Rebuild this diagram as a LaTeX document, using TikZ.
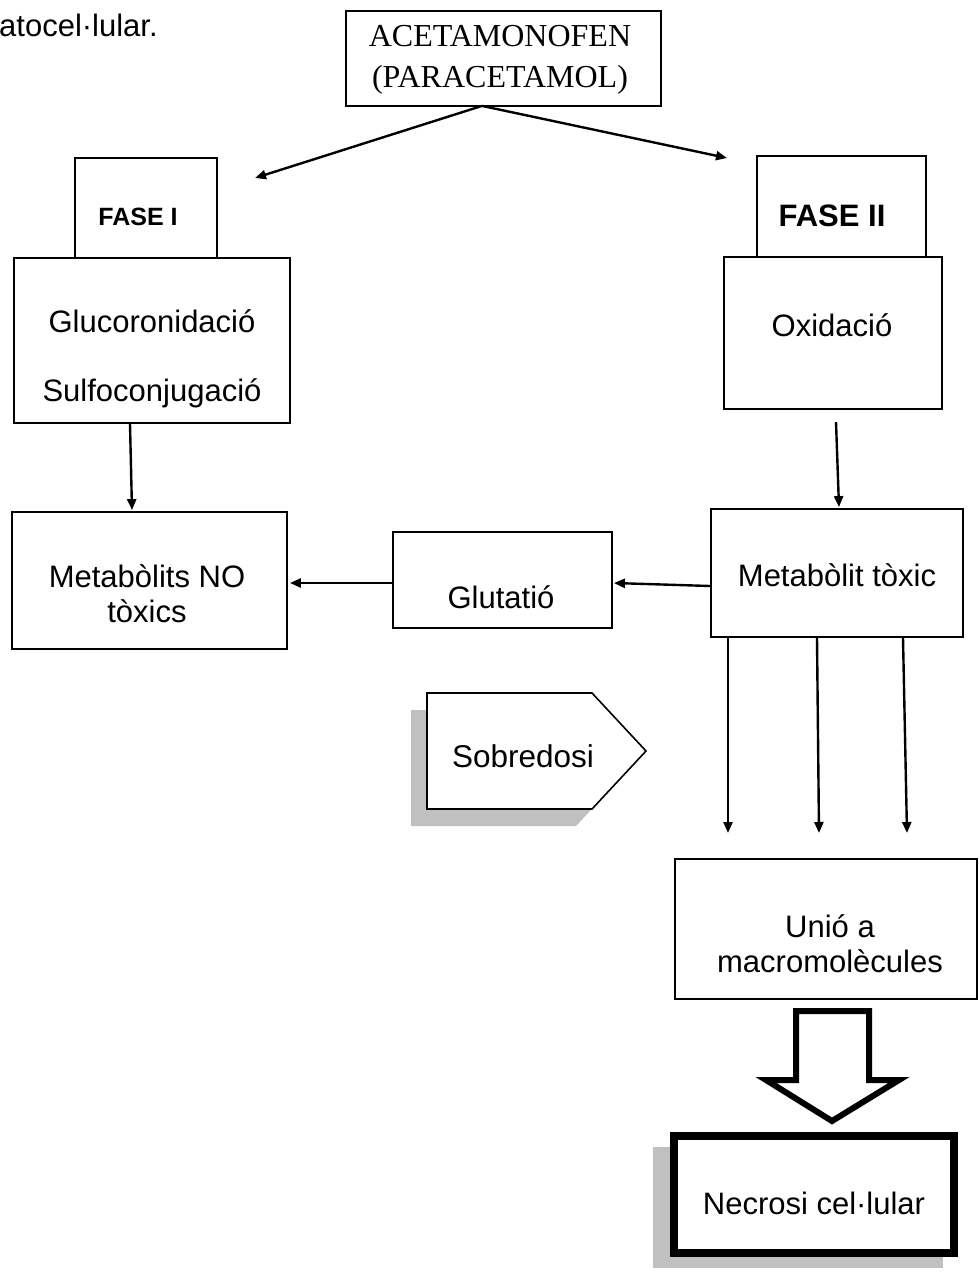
\documentclass[tikz,border=0pt]{standalone}
\usepackage{fontspec}
\setmainfont{Liberation Sans}
\newfontfamily\timesf{Liberation Serif}
\usetikzlibrary{arrows.meta,calc}
\definecolor{shadowgray}{RGB}{192,192,192}
\tikzset{
  box/.style={draw, line width=1.8pt, inner sep=0pt, fill=white},
  lbl/.style={inner sep=0pt, align=center, font=\fontsize{31}{35}\selectfont},
  conn/.style={line width=2.4pt, -{Triangle[length=11pt,width=9pt]}},
}
\begin{document}
\begin{tikzpicture}[x=1pt,y=-1pt]
\useasboundingbox (0,0) rectangle (979,1272);

% top cut text
\node[lbl, anchor=base west] (top) at (-1,36) {atocel·lular.};

% boxes
\node[box, minimum width=315pt, minimum height=95pt] (acet) at (503.5,58.5) {};
\node[box, minimum width=142pt, minimum height=100pt] (fase1) at (146,208) {};
\node[box, minimum width=276pt, minimum height=165pt] (gluc) at (152,340.5) {};
\node[box, minimum width=275pt, minimum height=137pt] (metano) at (149.5,580.5) {};
\node[box, minimum width=169pt, minimum height=101pt] (fase2) at (841.5,206.5) {};
\node[box, minimum width=218pt, minimum height=152pt] (oxid) at (833,333) {};
\node[box, minimum width=252pt, minimum height=128pt] (tox) at (837,573) {};
\node[box, minimum width=219pt, minimum height=96pt] (glut) at (502.5,580) {};
\node[box, minimum width=302pt, minimum height=140pt] (unio) at (826,929) {};

% texts
\node[lbl, font=\timesf\fontsize{32}{41}\selectfont] (tacet) at (500,60) {ACETAMONOFEN\\(PARACETAMOL)};
\node[lbl, font=\fontsize{25}{30}\selectfont\bfseries] (tfase1) at (138,217) {FASE I};
\node[lbl, font=\fontsize{31}{35}\selectfont\bfseries] (tfase2) at (832,216) {FASE II};
\node[lbl, font=\fontsize{31}{69}\selectfont] (tgluc) at (152,359) {Glucoronidació\\Sulfoconjugació};
\node[lbl] (tmetano) at (147,594) {Metabòlits NO\\tòxics};
\node[lbl] (toxid) at (832,325) {Oxidació};
\node[lbl] (ttox) at (837,575) {Metabòlit tòxic};
\node[lbl] (tglut) at (501,597) {Glutatió};
\node[lbl] (tunio) at (830,944) {Unió a\\macromolècules};

% Sobredosi
\fill[shadowgray] (411,710) -- (576,710) -- (630,768) -- (576,826) -- (411,826) -- cycle;
\draw[line width=1.6pt, fill=white, line join=miter] (427,693) -- (592,693) -- (646,751) -- (592,809) -- (427,809) -- cycle;
\node[lbl, font=\fontsize{31.5}{35}\selectfont] (tsobre) at (523,756) {Sobredosi};

% Necrosi
\fill[shadowgray] (653,1147) rectangle (943,1268);
\node[draw, line width=8pt, fill=white, inner sep=0pt, minimum width=280pt, minimum height=117pt] (necro) at (814,1194.5) {};
\node[lbl] (tnecro) at (814,1203) {Necrosi cel·lular};

% block arrow
\draw[line width=6pt, line join=miter, fill=white] (796,1011) -- (869,1011) -- (869,1080) -- (899,1080) -- (832,1121) -- (766,1080) -- (796,1080) -- cycle;

% connectors
\coordinate (e1) at (255,178);
\coordinate (e2) at (727,158);
\coordinate (s2) at (836,422);
\coordinate (d1) at (728,833);
\coordinate (d2) at (819,833);
\coordinate (d3) at (907,833);
\draw[conn] ($(acet.south)+(-21.5,-1)$) -- (e1);
\draw[conn] ($(acet.south)+(-21.5,-1)$) -- (e2);
\draw[conn] ($(gluc.south)+(-22,0)$) -- ($(metano.north)+(-17.5,-1)$);
\draw[conn] (s2) -- ($(tox.north)+(2,-1)$);
\draw[conn] ($(tox.west)+(0,13)$) -- ($(glut.east)+(1,3)$);
\draw[conn] ($(glut.west)+(0,3)$) -- ($(metano.east)+(2,2.5)$);
\draw[conn] ($(tox.south)+(-109,0)$) -- (d1);
\draw[conn] ($(tox.south)+(-20,0)$) -- (d2);
\draw[conn] ($(tox.south)+(66,0)$) -- (d3);
\end{tikzpicture}
\end{document}
